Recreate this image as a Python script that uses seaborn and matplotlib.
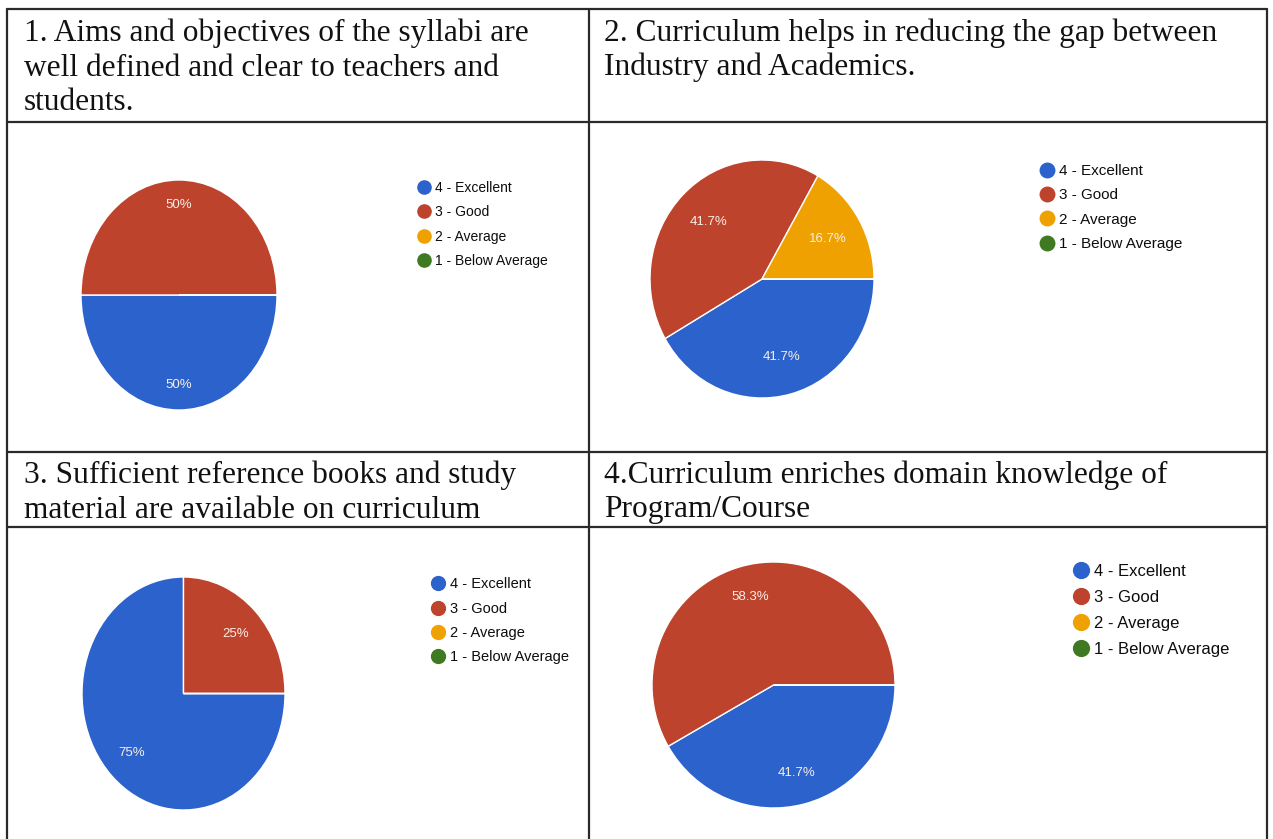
import matplotlib
matplotlib.use("Agg")
import matplotlib.pyplot as plt
import seaborn as sns
from matplotlib.lines import Line2D

# ---------------- data ----------------
categories = ["4 - Excellent", "3 - Good", "2 - Average", "1 - Below Average"]
q1_values = [50, 50, 0, 0]
q2_values = [41.7, 41.7, 16.7, 0]
q3_values = [75, 25, 0, 0]
q4_values = [41.7, 58.3, 0, 0]
titles = [
    "1. Aims and objectives of the syllabi are\nwell defined and clear to teachers and\nstudents.",
    "2. Curriculum helps in reducing the gap between\nIndustry and Academics.",
    "3. Sufficient reference books and study\nmaterial are available on curriculum",
    "4.Curriculum enriches domain knowledge of\nProgram/Course",
]
colors = ["#2c62cb", "#be432c", "#f0a102", "#3f7a22"]

W, H = 1273, 839
sns.set_theme(style="white")
plt.rcParams["font.family"] = ["Liberation Sans", "DejaVu Sans"]
palette = sns.color_palette(colors)

fig = plt.figure(figsize=(W / 100, H / 100), dpi=100)
fig.patch.set_facecolor("white")


def fx(x):
    return x / W


def fy(y):
    return 1 - y / H


# ---------------- table grid ----------------
line_kw = dict(color="#2a2a2a", lw=1.6, transform=fig.transFigure)
for y in [9, 122, 452, 527]:
    fig.add_artist(Line2D([fx(7), fx(1267)], [fy(y), fy(y)], **line_kw))
for x in [7, 589, 1267]:
    fig.add_artist(Line2D([fx(x), fx(x)], [fy(9), fy(839)], **line_kw))

# ---------------- header texts ----------------
title_pos = [(24, 41), (604, 41), (24, 483), (604, 483)]
for t, (x, y) in zip(titles, title_pos):
    for i, line in enumerate(t.split("\n")):
        fig.text(fx(x), fy(y + i * 34.5), line, family="Liberation Serif",
                 fontsize=22.6, color="#111111", ha="left", va="baseline")

# ---------------- pies ----------------
pie_boxes = [(81, 180, 277, 410), (650, 160, 874, 398),
             (82, 577, 285, 810), (652, 562, 895, 808)]
pct_dist = [0.78, 0.68, 0.72, 0.74]
legend_spec = [  # marker x, first row y, font pt, labelspacing
    (424, 186, 10.0, 0.76),
    (1047, 170, 11.0, 0.68),
    (438, 583, 10.5, 0.71),
    (1081, 570, 12.0, 0.67),
]
all_values = [q1_values, q2_values, q3_values, q4_values]


def fmt(p):
    if p <= 0.05:
        return ""
    s = f"{p:.1f}".rstrip("0").rstrip(".")
    return s + "%"


for vals, box, pdist, leg in zip(all_values, pie_boxes, pct_dist, legend_spec):
    x0, y0, x1, y1 = box
    ax = fig.add_axes([fx(x0), fy(y1), (x1 - x0) / W, (y1 - y0) / H])
    ax.pie(vals, colors=palette, startangle=0, counterclock=False,
           autopct=fmt, pctdistance=pdist, radius=1, center=(0, 0),
           wedgeprops=dict(edgecolor="white", linewidth=1.0),
           textprops=dict(color="#f8efe6", fontsize=9.5))
    ax.set_aspect("auto")
    ax.set_xlim(-1, 1)
    ax.set_ylim(-1, 1)
    ax.axis("off")

    mx, my, fs, ls = leg
    fs_px = fs * 100 / 72
    handles = [Line2D([0], [0], marker="o", linestyle="none", markersize=fs * 0.95,
                      markerfacecolor=c, markeredgecolor=c) for c in palette]
    ax.legend(handles, categories, loc="upper left",
              bbox_to_anchor=(fx(mx - 0.45 * fs_px), fy(my - 0.39 * fs_px)),
              bbox_transform=fig.transFigure, frameon=False, fontsize=fs,
              labelspacing=ls, handlelength=0.9, handletextpad=0.35,
              borderpad=0, borderaxespad=0, labelcolor="#0d0d0d")

fig.savefig("out.png", dpi=100, facecolor="white")
